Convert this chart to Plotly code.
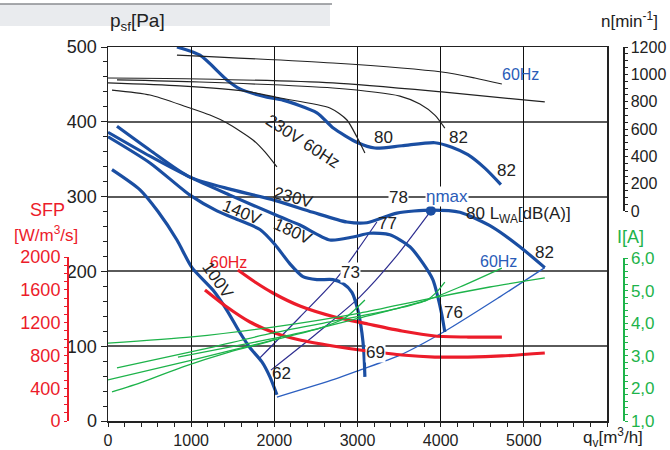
import plotly.graph_objects as go

# ---------------- data ----------------
# pressure curves  q [m3/h] , p_sf [Pa]
q_60hz = [829, 1106, 1430, 1587, 1911, 2103, 2512, 2704, 3005, 3209, 3534, 3930, 4135, 4327, 4531, 4724]
p_60hz = [500, 489, 456, 444, 433, 429, 412, 392, 372, 365, 368, 372, 366, 356, 338, 316]

q_230 = [108, 505, 986, 1502, 2007, 2464, 2873, 3113, 3474, 3882, 4231, 4627, 4952, 5252]
p_230 = [394, 362, 326, 309, 295, 279, 266, 265, 278, 282, 279, 259, 233, 205]

q_180 = [0, 505, 986, 1466, 2067, 2308, 2668, 2945, 3149, 3389, 3630, 3786, 3906, 3966, 4014, 4050]
p_180 = [386, 354, 326, 302, 273, 262, 242, 246, 251, 249, 233, 211, 189, 166, 142, 119]

q_140 = [0, 505, 986, 1310, 1587, 1827, 2007, 2188, 2344, 2512, 2704, 2825, 2933, 3005, 3053, 3077, 3089]
p_140 = [380, 345, 302, 281, 268, 256, 236, 210, 193, 189, 189, 184, 172, 148, 118, 91, 59]

q_100 = [48, 385, 601, 829, 1010, 1262, 1430, 1587, 1707, 1851, 1947, 2031]
p_100 = [336, 309, 280, 242, 205, 175, 148, 118, 98, 79, 59, 35]

# system (end-point) curve and efficiency lines
q_sys = [2031, 2728, 3029, 3510, 4050, 4712, 5252]
p_sys = [32, 56, 68, 88, 120, 166, 205]
q_l1 = [1815, 2308, 2752, 3233]
p_l1 = [83, 139, 191, 266]
q_l2 = [1959, 2488, 3029, 3450, 3882]
p_l2 = [68, 115, 166, 218, 281]
q_eta = [3882]
p_eta = [281]

# speed curves n [min-1]
q_n1 = [829, 2704, 4014, 4411, 4736]
n_n1 = [1141, 1083, 1017, 973, 929]
q_n2 = [0, 1106, 2704, 4014, 5252]
n_n2 = [973, 966, 937, 871, 798]
q_n3 = [108, 1106, 2704, 3510, 3750, 3930, 4050]
n_n3 = [959, 944, 900, 841, 783, 702, 607]
q_n4 = [0, 865, 1707, 2067, 2668, 2873, 2993, 3089]
n_n4 = [937, 915, 871, 827, 754, 666, 541, 424]
q_n5 = [48, 505, 950, 1226, 1430, 1743, 1887, 2031]
n_n5 = [885, 849, 761, 702, 644, 520, 432, 322]

# SFP curves [W/m3/s]
q_sfp60 = [1562, 1767, 1983, 2308, 2728, 3125, 3534, 3930, 4327, 4736]
s_sfp60 = [1841, 1695, 1561, 1402, 1268, 1183, 1098, 1037, 1024, 1024]
q_sfp = [1166, 1430, 1707, 2007, 2308, 2704, 3029, 3329, 3534, 3930, 4327, 4736, 5252]
s_sfp = [1598, 1390, 1207, 1073, 988, 915, 866, 829, 805, 780, 780, 793, 829]

# current curves I [A]
q_i230 = [0, 1010, 1983, 3029, 3834, 4591, 5252]
i_i230 = [3.39, 3.58, 3.88, 4.31, 4.74, 5.11, 5.39]
q_i60 = [841, 1707, 2308, 3029, 3834, 4231, 4736]
i_i60 = [2.96, 3.39, 3.70, 4.16, 4.71, 5.11, 5.69]
q_i180 = [108, 1106, 1983, 2668, 3510, 3834, 3954, 4050]
i_i180 = [2.63, 3.18, 3.70, 4.04, 4.47, 4.71, 4.96, 5.26]
q_i140 = [0, 1010, 1983, 2548, 2849, 3089]
i_i140 = [2.26, 2.87, 3.48, 3.85, 4.16, 4.71]
q_i100 = [48, 421, 901, 1466, 1911, 2031]
i_i100 = [1.89, 2.20, 2.66, 3.12, 3.42, 3.52]

x_ticks = [0, 1000, 2000, 3000, 4000, 5000]
p_ticks = [0, 100, 200, 300, 400, 500]
sfp_ticks = [0, 400, 800, 1200, 1600, 2000]
n_ticks = [0, 200, 400, 600, 800, 1000, 1200]
i_ticks = [1, 2, 3, 4, 5, 6]
i_labels = ["1,0", "2,0", "3,0", "4,0", "5,0", "6,0"]

# ---------------- styling ----------------
FONT = "Liberation Sans Narrow, Liberation Sans, Arial, sans-serif"
BLUE = "#1a4ea2"
THIN_BLUE = "#2c5fc0"
NAVY = "#2e2e90"
RED = "#ec1c2a"
GREEN = "#1db34a"
BLACK = "#222222"

W, H = 670, 450
ML, MR, MT, MB = 10, 10, 47, 29
PW, PH = W - ML - MR, H - MT - MB


def px(X):
    return (X - ML) / PW


def py(Y):
    return (H - MB - Y) / PH


fig = go.Figure()


def line(x, y, color, width, ax="y"):
    fig.add_trace(go.Scatter(x=x, y=y, mode="lines", yaxis=ax,
                             line=dict(color=color, width=width, shape="spline", smoothing=0.7),
                             hoverinfo="skip", showlegend=False))


line(q_sys, p_sys, THIN_BLUE, 1.3)
line(q_l1, p_l1, NAVY, 1.2)
line(q_l2, p_l2, NAVY, 1.2)
for qq, pp in [(q_60hz, p_60hz), (q_230, p_230), (q_180, p_180), (q_140, p_140), (q_100, p_100)]:
    line(qq, pp, BLUE, 3.2)
fig.add_trace(go.Scatter(x=q_eta, y=p_eta, mode="markers", marker=dict(color=BLUE, size=10),
                         hoverinfo="skip", showlegend=False))
line(q_sfp60, s_sfp60, RED, 3.2, "y3")
line(q_sfp, s_sfp, RED, 3.2, "y3")
for qq, nn in [(q_n1, n_n1), (q_n2, n_n2), (q_n3, n_n3), (q_n4, n_n4), (q_n5, n_n5)]:
    line(qq, nn, BLACK, 1.2, "y4")
for qq, ii in [(q_i230, i_i230), (q_i60, i_i60), (q_i180, i_i180), (q_i140, i_i140), (q_i100, i_i100)]:
    line(qq, ii, GREEN, 1.3, "y5")

x0, x1 = px(108), px(607)

fig.update_layout(
    template="none",
    width=W, height=H, margin=dict(l=ML, r=MR, t=MT, b=MB, pad=0, autoexpand=False),
    paper_bgcolor="white", plot_bgcolor="rgba(0,0,0,0)",
    font=dict(family=FONT, color=BLACK, size=18),
    xaxis=dict(domain=[x0, x1], range=[0, 6000], tickvals=x_ticks, ticks="outside", ticklen=4,
               tickcolor=BLACK, showline=True, linecolor=BLACK, linewidth=1.5, mirror=True,
               showgrid=True, gridcolor="#111111", gridwidth=1, zeroline=False, automargin=False,
               minor=dict(dtick=200, ticks="outside", ticklen=4, tickcolor=BLACK, showgrid=False),
               tickfont=dict(size=16, color=BLACK, family=FONT)),
    yaxis=dict(range=[0, 500], tickvals=p_ticks, ticks="outside", ticklen=6, tickcolor=BLACK,
               showline=True, linecolor=BLACK, linewidth=1.5, mirror=True, automargin=False,
               showgrid=True, gridcolor="#5a5a5a", gridwidth=2, zeroline=False,
               minor=dict(dtick=20, ticks="outside", ticklen=4, tickcolor=BLACK, showgrid=False),
               tickfont=dict(size=18, color=BLACK, family=FONT)),
    yaxis3=dict(domain=[0, 164 / 374], range=[0, 2000], anchor="free", automargin=False,
                position=px(67), side="left", tickvals=sfp_ticks, ticks="outside", ticklen=3,
                tickcolor=RED, showline=True, linecolor=RED, linewidth=1.5, showgrid=False,
                zeroline=False,
                minor=dict(dtick=100, ticks="outside", ticklen=3, tickcolor=RED, showgrid=False),
                tickfont=dict(size=18, color=RED, family=FONT)),
    yaxis4=dict(domain=[210 / 374, 1], range=[0, 1200], anchor="free", position=px(623), side="right",
                tickvals=n_ticks, ticks="outside", ticklen=3, tickcolor=BLACK, showline=True,
                linecolor=BLACK, linewidth=1.5, showgrid=False, zeroline=False, automargin=False,
                minor=dict(dtick=50, ticks="outside", ticklen=3, tickcolor=BLACK, showgrid=False),
                tickfont=dict(size=16, color=BLACK, family=FONT)),
    yaxis5=dict(domain=[0, 163 / 374], range=[1, 6], anchor="free", position=px(623), side="right",
                tickvals=i_ticks, ticktext=i_labels, ticks="outside", ticklen=3, tickcolor=GREEN,
                showline=True, linecolor=GREEN, linewidth=1.5, showgrid=False, zeroline=False,
                automargin=False,
                minor=dict(dtick=0.2, ticks="outside", ticklen=3, tickcolor=GREEN, showgrid=False),
                tickfont=dict(size=17, color=GREEN, family=FONT)),
)

shapes = [
    dict(type="rect", xref="paper", yref="paper", x0=px(0), x1=px(330), y0=py(26), y1=py(4),
         fillcolor="#e9ebee", line=dict(width=0), layer="below"),
    dict(type="line", xref="paper", yref="paper", x0=px(0), x1=px(332), y0=py(4), y1=py(4),
         line=dict(color="#8a8d90", width=1.5)),
]
fig.update_layout(shapes=shapes)

ann = []


def T(text, X, Y, size=17, color=BLACK, angle=0, bg=None, xanchor="center"):
    d = dict(text=text, x=px(X), y=py(Y), xref="paper", yref="paper", showarrow=False,
             font=dict(size=size, color=color, family=FONT), textangle=angle, xanchor=xanchor,
             yanchor="middle", borderpad=0)
    if bg:
        d["bgcolor"] = bg
    ann.append(d)


T("p<sub>sf</sub>[Pa]", 109, 22, size=19, xanchor="left")
T("n[min<sup>-1</sup>]", 600, 20, size=17, xanchor="left")
T("SFP", 47, 210, size=18, color=RED)
T("[W/m<sup>3</sup>/s]", 46, 234, size=17, color=RED)
T("I[A]", 630, 237, size=18, color=GREEN)
T("q<sub>v</sub>[m<sup>3</sup>/h]", 582, 437, size=17, xanchor="left")

T("230V 60Hz", 303, 141, angle=33)
T("80", 383, 137)
T("82", 458, 137)
T("82", 506, 170)
T("60Hz", 520, 75, size=16, color="#2a5cb8")
T("230V", 293, 198, angle=15)
T("140V", 242, 212, angle=22)
T("180V", 293, 231, angle=25)
T("78", 398, 197, bg="white")
T("ηmax", 447, 196, size=17, color="#2a5cb8", bg="white")
T("80 L<sub>WA</sub>[dB(A)]", 518, 215)
T("77", 387, 223)
T("73", 350, 272, bg="white")
T("62", 281, 373)
T("69", 375, 352, bg="white")
T("76", 453, 312)
T("82", 544, 252)
T("60Hz", 498, 261, size=16, color="#2a5cb8")
T("60Hz", 228, 262, size=16, color=RED)
T("100V", 218, 280, angle=55)

fig.update_layout(annotations=ann)
fig.write_html("out.html", config={"displayModeBar": False, "staticPlot": True},
               post_script="document.body.style.margin='0';document.body.style.overflow='hidden';")
